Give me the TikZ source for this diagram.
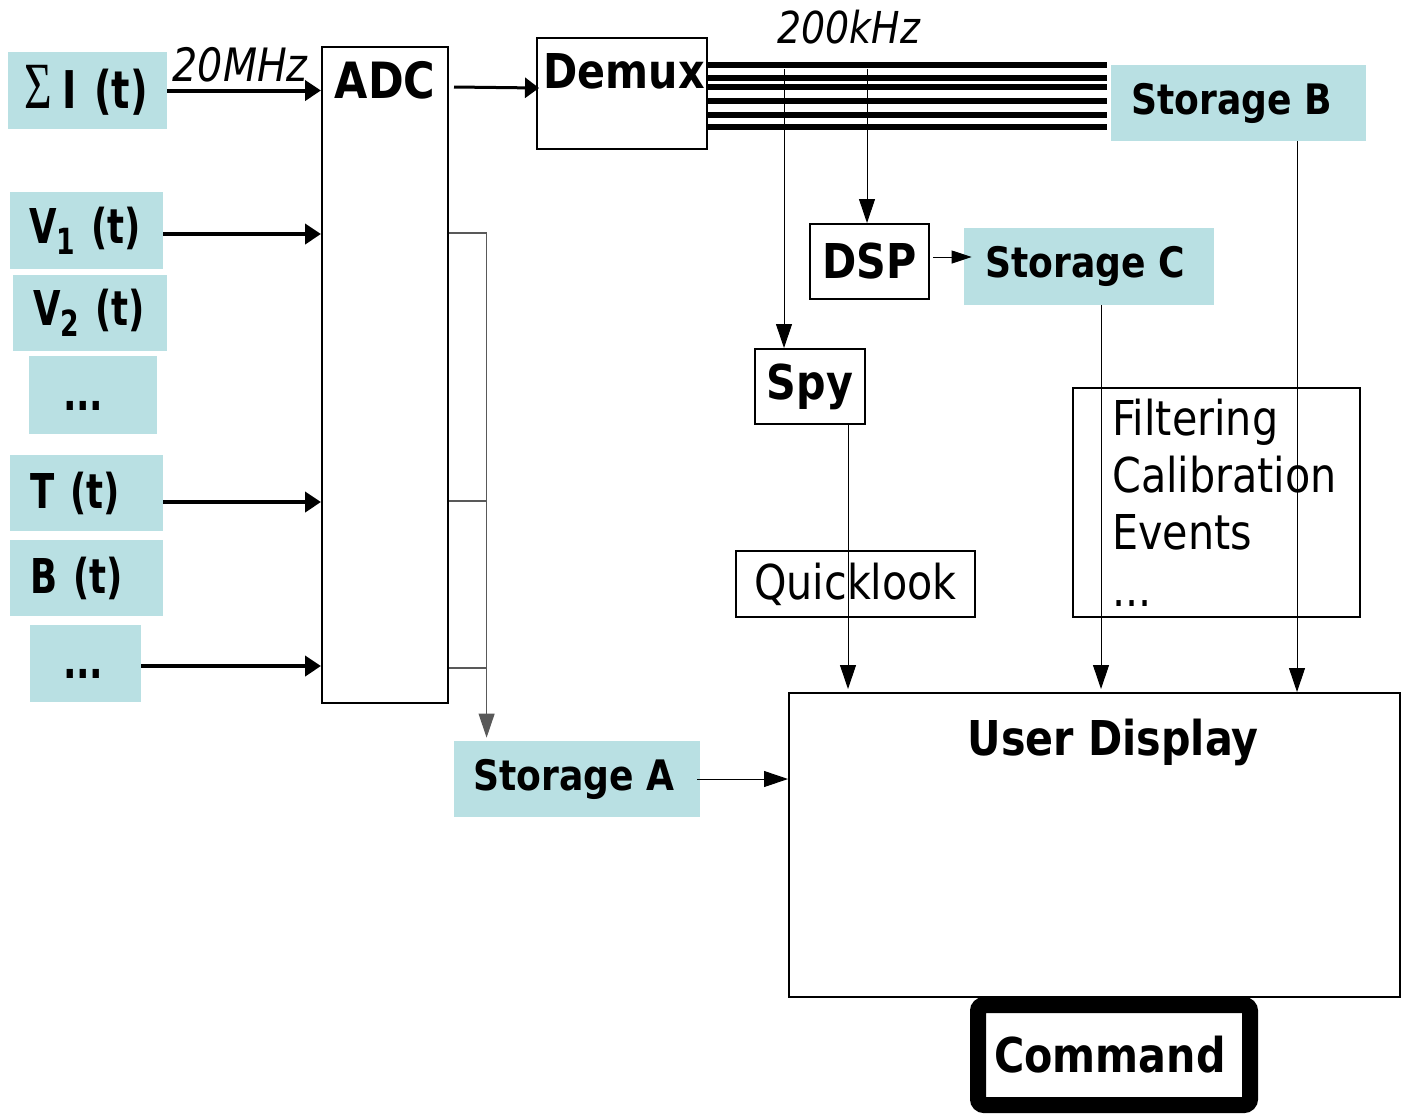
\documentclass[tikz,border=0pt]{standalone}
\usepackage{fontspec}
\usepackage{graphicx}
\usetikzlibrary{arrows.meta,calc}
\newfontfamily\cf{DejaVu Sans}[FakeStretch=0.86]
\newfontfamily\nf{DejaVu Sans}[FakeStretch=0.74]
\newfontfamily\sigfont{Liberation Serif}
\definecolor{boxfill}{RGB}{185,224,227}
\newcommand{\myfs}[1]{\fontsize{#1}{#1}\selectfont}
\begin{document}
\begin{tikzpicture}[x=0.5pt,y=-0.5pt,
  inp/.style={fill=boxfill, inner ysep=0, align=left, font=\nf\bfseries\myfs{24}},
  stor/.style={fill=boxfill, inner sep=0, font=\cf\bfseries\myfs{21}},
  blk/.style={draw, line width=1pt, inner sep=0},
  thk/.style={line width=2pt, -{Triangle[length=8pt,width=10pt]}},
  thkb/.style={line width=1.5pt, -{Triangle[length=7pt,width=10pt]}},
  thn/.style={line width=0.5pt, -{Triangle[length=12pt,width=8pt]}},
  thns/.style={line width=0.5pt, -{Triangle[length=10pt,width=6.5pt]}},
  gline/.style={line width=0.6pt, draw=black!65},
  bus/.style={line width=3pt}]
\useasboundingbox (0,0) rectangle (1407,1115);

% ---- inputs
\node[inp, minimum width=79.5pt, minimum height=38.5pt, inner xsep=8.5pt, text width=62.5pt, font=\nf\bfseries\myfs{26}] (sigI) at (87.5,90.5)
  {\mbox{\scalebox{0.72}[1]{\sigfont\mdseries\myfs{33}Σ}\hspace{5pt}I (t)}};
\node[inp, minimum width=76.5pt, minimum height=38.5pt, inner xsep=9.5pt, text width=57.5pt] (V1) at (86.5,230.5)
  {\mbox{V\raisebox{-5.5pt}{\myfs{18}1} (t)}};
\node[inp, minimum width=77pt, minimum height=38pt, inner xsep=10pt, text width=57pt] (V2) at (90,313)
  {\mbox{V\raisebox{-5.5pt}{\myfs{18}2} (t)}};
\node[inp, minimum width=64pt, minimum height=39pt, inner xsep=17pt, text width=30pt] (d1) at (93,395)
  {\mbox{\vphantom{(}...}};
\node[inp, minimum width=76.5pt, minimum height=38pt, inner xsep=10pt, text width=56.5pt] (T) at (86.5,493)
  {\mbox{T (t)}};
\node[inp, minimum width=76.5pt, minimum height=38pt, inner xsep=10pt, text width=56.5pt] (B) at (86.5,578)
  {\mbox{B (t)}};
\node[inp, minimum width=55.5pt, minimum height=38.5pt, inner xsep=16.5pt, text width=22.5pt] (d2) at (85.5,663.5)
  {\mbox{\vphantom{(}...}};

% ---- ADC and Demux
\node[blk, minimum width=63pt, minimum height=328pt,
  label={[anchor=north, yshift=-7.5pt, inner sep=0, font=\cf\bfseries\myfs{25}]north:ADC}] (adc) at (385,375) {};
\node[blk, minimum width=85pt, minimum height=55.5pt,
  label={[anchor=north, yshift=-8pt, xshift=1pt, inner sep=0, font=\cf\bfseries\myfs{24}]north:Demux}] (demux) at (622,93.5) {};

% ---- storages and processing
\node[stor, minimum width=127.5pt, minimum height=38pt] (storB) at (1238.5,103) {\hspace*{-7pt}Storage B};
\node[blk, minimum width=59.5pt, minimum height=37.5pt, font=\cf\bfseries\myfs{24}] (dsp) at (869.5,261.5) {DSP};
\node[stor, minimum width=125pt, minimum height=38.5pt] (storC) at (1089,266.5) {\hspace*{-4pt}Storage C};
\node[blk, minimum width=55pt, minimum height=37.5pt, font=\cf\bfseries\myfs{24}] (spy) at (810,386.5) {Spy};
\node[blk, minimum width=119.5pt, minimum height=33pt, font=\cf\myfs{24}] (quick) at (855.5,584) {Quicklook};
\node[blk, minimum width=143.5pt, minimum height=114.5pt, align=left, font=\cf\fontsize{24}{28.5}\selectfont] (filt) at (1216.5,502.5)
  {\hspace*{8pt}Filtering\\\hspace*{8pt}Calibration\\\hspace*{8pt}Events\\\hspace*{8pt}...};
\node[stor, minimum width=123pt, minimum height=38pt] (storA) at (577,779) {\hspace*{-3pt}Storage A};
\node[blk, minimum width=305.5pt, minimum height=152pt,
  label={[anchor=north, yshift=-13.5pt, xshift=9.25pt, inner sep=0, font=\cf\bfseries\myfs{24}]north:User Display}] (ud) at (1094.5,845) {};
\node[draw, line width=8pt, rounded corners=3pt, minimum width=136pt, minimum height=50pt, inner sep=0,
  font=\cf\bfseries\myfs{24}] (cmd) at (1114,1055) {\hspace*{-4pt}Command};

% ---- input arrows
\draw[thk] (sigI.east) -- node[above=3pt, xshift=-2pt, inner sep=0, font=\cf\itshape\myfs{23}] {20MHz} (sigI.east -| adc.west);
\draw[thk] ($(V1.east)+(0,3.5)$) -- ($(V1.east -| adc.west)+(0,3.5)$);
\draw[thk] ($(T.east)+(0,9)$) -- ($(T.east -| adc.west)+(0,9)$);
\draw[thk] ($(d2.east)+(0,2.5)$) -- ($(d2.east -| adc.west)+(0,2.5)$);

% ---- ADC to Demux
\draw[thkb] ($(adc.north east)+(5,41)$) -- ($(adc.north east -| demux.west)+(3,42)$);

% ---- bus
\foreach \yy in {27.7,41,50.3,63.7,77.7,90.3}{
  \draw[bus] ($(demux.north east)+(0,\yy)$) -- ($(demux.north east -| storB.west)+(-4,\yy)$);
}
\node[font=\cf\itshape\myfs{22}, inner sep=0, anchor=south] (khz) at ($(demux.north east)+(141,8)$) {200kHz};

% ---- taps from bus
\coordinate (tapA) at ($(demux.north east)+(76,32)$);
\coordinate (tapB) at ($(demux.north east)+(159,32)$);
\draw[thn] (tapA) -- (tapA |- spy.north);
\draw[thn] (tapB) -- (tapB |- dsp.north);
\draw[thns] ($(dsp.east)+(3,-4.5)$) -- ($(dsp.east -| storC.west)+(8,-4.5)$);

% ---- to user display
\coordinate (s1) at ($(spy.south)+(38,0)$);
\coordinate (c1) at ($(storC.south)+(12,0)$);
\coordinate (b1) at ($(storB.south)+(58.5,0)$);
\draw[thn] (s1) -- ($(s1 |- ud.north)+(0,-3)$);
\draw[thn] (c1) -- ($(c1 |- ud.north)+(0,-3)$);
\draw[thn] (b1) -- (b1 |- ud.north);

% ---- ADC side outputs to Storage A
\coordinate (a1) at ($(adc.north east)+(0,187)$);
\coordinate (a2) at ($(adc.north east)+(0,455)$);
\coordinate (a3) at ($(adc.north east)+(0,622)$);
\coordinate (sa) at ($(storA.north west)+(33,-3)$);
\draw[gline] (a1) -- (a1 -| sa);
\draw[gline] (a2) -- (a2 -| sa);
\draw[gline] (a3) -- (a3 -| sa);
\draw[thn, draw=black!65] (a1 -| sa) -- (sa);
\draw[thn] ($(storA.east)+(-3,0)$) -- (storA.east -| ud.west);
\end{tikzpicture}
\end{document}
